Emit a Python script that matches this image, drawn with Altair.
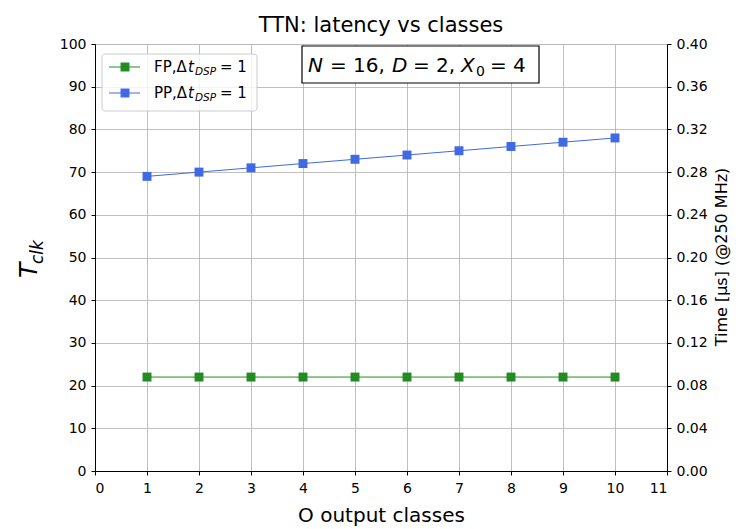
import altair as alt
import pandas as pd

classes = [1, 2, 3, 4, 5, 6, 7, 8, 9, 10]
fp_tclk = [22, 22, 22, 22, 22, 22, 22, 22, 22, 22]
pp_tclk = [69, 70, 71, 72, 73, 74, 75, 76, 77, 78]
series_names = ["FP", "PP"]
series_colors = ["#228B22", "#4169E1"]
x_ticks = list(range(0, 12))
y_ticks = list(range(0, 101, 10))
time_ticks = [0.0, 0.04, 0.08, 0.12, 0.16, 0.20, 0.24, 0.28, 0.32, 0.36, 0.40]

FONT = "DejaVu Sans"
W, H = 572, 427

df = pd.DataFrame({
    "classes": classes * 2,
    "Tclk": fp_tclk + pp_tclk,
    "series": ["FP"] * len(classes) + ["PP"] * len(classes),
})

x_enc = alt.X(
    "classes:Q",
    scale=alt.Scale(domain=[0, 11], nice=False, zero=False),
    axis=alt.Axis(
        values=x_ticks, title="O output classes", format="d",
        titleFontSize=20, titleFont=FONT, titleFontWeight="normal", titleColor="black",
        titlePadding=10, labelFontSize=14, labelFont=FONT, labelColor="black",
        labelPadding=6, tickSize=4, tickColor="black", domainColor="black",
        grid=True, gridColor="#b0b0b0", gridWidth=0.8,
    ),
)

y_enc = alt.Y(
    "Tclk:Q",
    scale=alt.Scale(domain=[0, 100], nice=False),
    axis=alt.Axis(
        values=y_ticks, title=None, labelFontSize=14, labelFont=FONT,
        labelColor="black", labelPadding=5, tickSize=4, tickColor="black",
        domainColor="black", grid=True, gridColor="#b0b0b0", gridWidth=0.8,
    ),
)

color_enc = alt.Color(
    "series:N",
    scale=alt.Scale(domain=series_names, range=series_colors),
    legend=None,
)

base = alt.Chart(df)
lines = base.mark_line(strokeWidth=1).encode(x=x_enc, y=y_enc, color=color_enc)
points = base.mark_point(shape="square", filled=True, size=80, opacity=1).encode(
    x=x_enc, y=y_enc, color=color_enc
)
main = alt.layer(lines, points)

dummy = pd.DataFrame({"classes": [1, 1], "time": [0.0, 0.4]})
right_axis = alt.Chart(dummy).mark_point(opacity=0).encode(
    x=alt.X("classes:Q", scale=alt.Scale(domain=[0, 11], nice=False, zero=False)),
    y=alt.Y(
        "time:Q",
        scale=alt.Scale(domain=[0, 0.4], nice=False),
        axis=alt.Axis(
            orient="right", values=time_ticks, format=".2f", title=None,
            labelFontSize=14, labelFont=FONT, labelColor="black", labelPadding=5,
            tickSize=4, tickColor="black", domainColor="black", grid=False,
        ),
    ),
)

one = pd.DataFrame({"a": [0]})


def txt(text, x, y, size, align="left", baseline="alphabetic", angle=0, style="normal", color="black"):
    return alt.Chart(one).mark_text(
        text=text, font=FONT, fontSize=size, align=align, baseline=baseline,
        angle=angle, fontStyle=style, color=color,
    ).encode(x=alt.value(x), y=alt.value(y))


# title
title = txt("TTN: latency vs classes", W / 2, -18, 21, align="center", baseline="middle")

# left y title T_clk
ylab_T = txt("T", -58, 234, 25, angle=270, style="italic")
ylab_sub = txt("clk", -52, 220, 17, angle=270, style="italic")

# right y title
ylab_r = txt("Time [μs] (@250 MHz)", 627, 213, 16, align="center", baseline="middle", angle=270)

# annotation box (mathtext-like pieces)
ann_box = alt.Chart(one).mark_rect(fill="white", stroke="black", strokeWidth=1.2).encode(
    x=alt.value(207), x2=alt.value(444), y=alt.value(2), y2=alt.value(39)
)
AB = 28  # baseline
ann_parts = [
    txt("N", 213, AB, 20, style="italic"),
    txt("= 16,", 235, AB, 20),
    txt("D", 297, AB, 20, style="italic"),
    txt("= 2,", 318, AB, 20),
    txt("X", 366, AB, 20, style="italic"),
    txt("0", 381, AB + 4, 14),
    txt("= 4", 395, AB, 20),
]

# legend
leg_box = alt.Chart(one).mark_rect(
    fill="white", fillOpacity=0.8, stroke="#cccccc", strokeWidth=1, cornerRadius=3
).encode(x=alt.value(7), x2=alt.value(162), y=alt.value(10), y2=alt.value(67))

legend_layers = [leg_box]
for i, (name, col) in enumerate(zip(series_names, series_colors)):
    yy = 23 + 26 * i
    legend_layers.append(
        alt.Chart(one).mark_rule(color=col, strokeWidth=1).encode(
            x=alt.value(14), x2=alt.value(45), y=alt.value(yy)
        )
    )
    legend_layers.append(
        alt.Chart(one).mark_point(shape="square", filled=True, size=80, color=col, opacity=1).encode(
            x=alt.value(30), y=alt.value(yy)
        )
    )
    legend_layers.append(txt(name + ",Δ", 59, yy + 5, 15))
    legend_layers.append(txt("t", 93, yy + 5, 15, style="italic"))
    legend_layers.append(txt("DSP", 100, yy + 8, 10.5, style="italic"))
    legend_layers.append(txt("= 1", 125, yy + 5, 15))

chart = alt.layer(
    main, right_axis, title, ylab_T, ylab_sub, ylab_r, ann_box, *ann_parts, *legend_layers
).resolve_scale(y="independent").properties(
    width=W, height=H,
    padding={"left": 87, "top": 36, "right": 64, "bottom": 56},
    autosize=alt.AutoSizeParams(type="none"),
).configure_view(stroke="black", strokeWidth=1).configure(background="white")

chart.save("out.html", embed_options={"renderer": "svg", "actions": False})
